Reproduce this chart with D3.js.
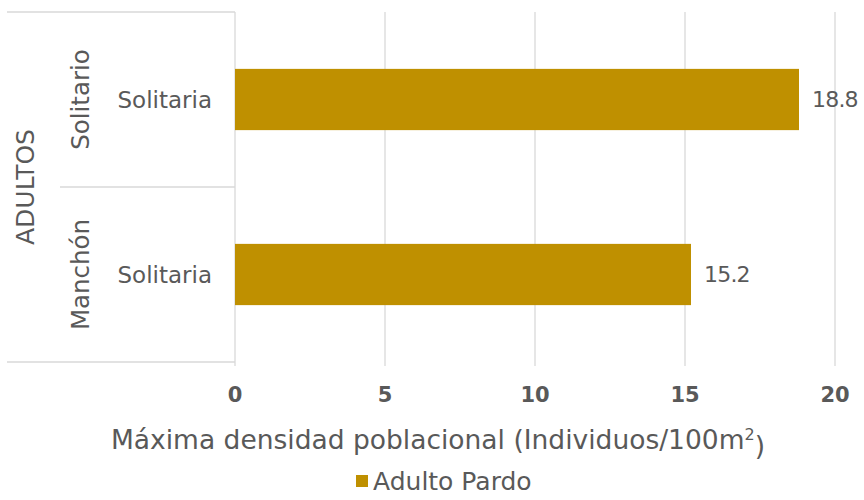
<!DOCTYPE html>
<html>
<head>
<meta charset="utf-8">
<script src="https://cdn.jsdelivr.net/npm/d3@7"></script>
<style>
	body { margin: 0; background: #fff; }
	svg text { font-family: "DejaVu Sans", "Noto Sans", sans-serif; fill: #595959; }
</style>
</head>
<body>
<svg id="chart" width="864" height="500"></svg>
<script>
// data
var groups = ["Solitario", "Manchón"];
var categories = ["Solitaria", "Solitaria"];
var values = [18.8, 15.2];
var outerGroup = "ADULTOS";
var seriesName = "Adulto Pardo";
var ticks = [0, 5, 10, 15, 20];

var color = "#BF9000";
var gridColor = "#D9D9D9";

var svg = d3.select("#chart");
var plotLeft = 235, plotRight = 835, plotTop = 12, plotBottom = 362;

var x = d3.scaleLinear().domain([0, 20]).range([plotLeft, plotRight]);
var y = d3.scaleBand().domain(d3.range(values.length)).range([plotTop, plotBottom]).paddingInner(0.65).paddingOuter(0.325);
var band = d3.scaleBand().domain(d3.range(values.length)).range([plotTop, plotBottom]);

// gridlines
svg.append("g").selectAll("line")
	.data(ticks.slice(1))
	.enter().append("line")
	.attr("x1", function(d) { return x(d); })
	.attr("x2", function(d) { return x(d); })
	.attr("y1", plotTop)
	.attr("y2", plotBottom + 4)
	.attr("stroke", gridColor)
	.attr("stroke-width", 1.3);

// hierarchy lines
var lines = svg.append("g").attr("stroke", gridColor).attr("stroke-width", 1.3);
lines.append("line").attr("x1", 7).attr("x2", plotLeft).attr("y1", plotTop).attr("y2", plotTop);
lines.append("line").attr("x1", 7).attr("x2", plotLeft).attr("y1", plotBottom).attr("y2", plotBottom);
lines.append("line").attr("x1", 60).attr("x2", plotLeft).attr("y1", band(1)).attr("y2", band(1));
lines.append("line").attr("x1", plotLeft).attr("x2", plotLeft).attr("y1", plotTop).attr("y2", plotBottom + 4);

// bars
svg.append("g").selectAll("rect")
	.data(values)
	.enter().append("rect")
	.attr("x", x(0))
	.attr("y", function(d, i) { return y(i); })
	.attr("width", function(d) { return x(d) - x(0); })
	.attr("height", y.bandwidth())
	.attr("fill", color);

// value labels
svg.append("g").selectAll("text")
	.data(values)
	.enter().append("text")
	.attr("x", function(d) { return x(d) + 13; })
	.attr("y", function(d, i) { return y(i) + y.bandwidth() / 2; })
	.attr("dy", "0.35em")
	.attr("font-size", 22)
	.attr("letter-spacing", -0.8)
	.text(function(d) { return d3.format(".1f")(d); });

// category labels
svg.append("g").selectAll("text")
	.data(categories)
	.enter().append("text")
	.attr("x", 212)
	.attr("y", function(d, i) { return band(i) + band.bandwidth() / 2; })
	.attr("dy", "0.35em")
	.attr("text-anchor", "end")
	.attr("font-size", 23)
	.text(function(d) { return d; });

// group labels (rotated)
svg.append("g").selectAll("text")
	.data(groups)
	.enter().append("text")
	.attr("transform", function(d, i) {
		return "translate(80," + (band(i) + band.bandwidth() / 2) + ") rotate(-90)";
	})
	.attr("dy", "0.35em")
	.attr("text-anchor", "middle")
	.attr("font-size", 24.5)
	.text(function(d) { return d; });

svg.append("text")
	.attr("transform", "translate(25," + ((plotTop + plotBottom) / 2) + ") rotate(-90)")
	.attr("dy", "0.35em")
	.attr("text-anchor", "middle")
	.attr("font-size", 25)
	.text(outerGroup);

// x tick labels
svg.append("g").selectAll("text")
	.data(ticks)
	.enter().append("text")
	.attr("x", function(d) { return x(d); })
	.attr("y", 395)
	.attr("dy", "0.35em")
	.attr("text-anchor", "middle")
	.attr("font-size", 21)
	.attr("font-weight", "bold")
	.text(function(d) { return d; });

// axis title
var title = svg.append("text")
	.attr("x", 438)
	.attr("y", 440)
	.attr("dy", "0.35em")
	.attr("text-anchor", "middle")
	.attr("font-size", 26.5);
title.append("tspan").text("Máxima densidad poblacional (Individuos/100m");
title.append("tspan").attr("font-size", 16).attr("dy", "-0.55em").text("2");
title.append("tspan").attr("dy", "0.55em").text(")");

// legend
svg.append("rect")
	.attr("x", 356).attr("y", 475)
	.attr("width", 12).attr("height", 12)
	.attr("fill", color);
svg.append("text")
	.attr("x", 373).attr("y", 481)
	.attr("dy", "0.35em")
	.attr("font-size", 25)
	.text(seriesName);
</script>
</body>
</html>
